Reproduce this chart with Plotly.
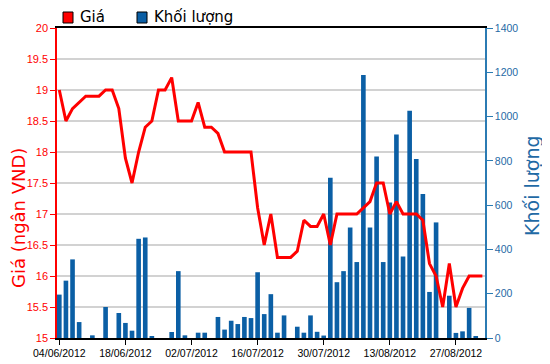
import plotly.graph_objects as go

dates = [
    "04/06/2012", "05/06/2012", "06/06/2012", "07/06/2012", "08/06/2012",
    "11/06/2012", "12/06/2012", "13/06/2012", "14/06/2012", "15/06/2012",
    "18/06/2012", "19/06/2012", "20/06/2012", "21/06/2012", "22/06/2012",
    "25/06/2012", "26/06/2012", "27/06/2012", "28/06/2012", "29/06/2012",
    "02/07/2012", "03/07/2012", "04/07/2012", "05/07/2012", "06/07/2012",
    "09/07/2012", "10/07/2012", "11/07/2012", "12/07/2012", "13/07/2012",
    "16/07/2012", "17/07/2012", "18/07/2012", "19/07/2012", "20/07/2012",
    "23/07/2012", "24/07/2012", "25/07/2012", "26/07/2012", "27/07/2012",
    "30/07/2012", "31/07/2012", "01/08/2012", "02/08/2012", "03/08/2012",
    "06/08/2012", "07/08/2012", "08/08/2012", "09/08/2012", "10/08/2012",
    "13/08/2012", "14/08/2012", "15/08/2012", "16/08/2012", "17/08/2012",
    "20/08/2012", "21/08/2012", "22/08/2012", "23/08/2012", "24/08/2012",
    "27/08/2012", "28/08/2012", "29/08/2012", "30/08/2012", "31/08/2012",
]

price = [
    19.0, 18.5, 18.7, 18.8, 18.9, 18.9, 18.9, 19.0, 19.0, 18.7,
    17.9, 17.5, 18.0, 18.4, 18.5, 19.0, 19.0, 19.2, 18.5, 18.5,
    18.5, 18.8, 18.4, 18.4, 18.3, 18.0, 18.0, 18.0, 18.0, 18.0,
    17.1, 16.5, 17.0, 16.3, 16.3, 16.3, 16.4, 16.9, 16.8, 16.8,
    17.0, 16.5, 17.0, 17.0, 17.0, 17.0, 17.1, 17.2, 17.5, 17.5,
    17.0, 17.2, 17.0, 17.0, 17.0, 16.9, 16.2, 16.0, 15.5, 16.2,
    15.5, 15.8, 16.0, 16.0, 16.0,
]

volume = [
    196, 259, 355, 72, 0, 12, 0, 140, 0, 113,
    68, 33, 448, 454, 6, 0, 0, 27, 302, 12,
    0, 24, 24, 0, 95, 38, 78, 63, 95, 90,
    297, 108, 198, 24, 102, 0, 51, 24, 102, 28,
    11, 724, 252, 302, 499, 343, 1188, 499, 820, 343,
    612, 919, 368, 1026, 808, 650, 208, 522, 0, 191,
    23, 30, 136, 7, 0,
]

tick_idx = [0, 10, 20, 30, 40, 50, 60]
tick_labels = [dates[i] for i in tick_idx]
price_ticks = [15, 15.5, 16, 16.5, 17, 17.5, 18, 18.5, 19, 19.5, 20]
price_tick_text = ["15", "15.5", "16", "16.5", "17", "17.5", "18", "18.5", "19", "19.5", "20"]
vol_ticks = [0, 200, 400, 600, 800, 1000, 1200, 1400]

RED = "#ff0000"
BLUE = "#0b5fa5"
AXBLUE = "#2b7bb3"
FONT = "Liberation Sans, Arial, sans-serif"

# the page body has an 8px margin; size the figure so the plot area lands at
# page pixels x 57..485, y 28..338
BODY = 8
fig = go.Figure()
fig.add_trace(go.Bar(
    x=dates, y=volume, name="Khối lượng", marker=dict(color=BLUE, line=dict(width=0)),
    yaxis="y", showlegend=False,
))
fig.add_trace(go.Scatter(
    x=dates, y=price, name="Giá", mode="lines", line=dict(color=RED, width=3),
    yaxis="y2", showlegend=False,
))

fig.update_layout(
    width=550 - BODY, height=364 - BODY,
    margin=dict(l=57 - BODY, r=65, t=28 - BODY, b=26, autoexpand=False),
    paper_bgcolor="white", plot_bgcolor="white",
    bargap=0.3,
    font=dict(family=FONT),
    xaxis=dict(
        type="category", categoryorder="array", categoryarray=dates,
        range=[-0.35, 64.4],
        tickmode="array", tickvals=tick_labels, ticktext=tick_labels,
        ticks="outside", ticklen=5, tickcolor="black", tickwidth=1,
        tickfont=dict(size=10.5, color="black", family=FONT),
        showline=True, linecolor="black", linewidth=1.5, mirror=True,
        showgrid=False, zeroline=False,
    ),
    yaxis=dict(
        side="right", range=[0, 1400], tickvals=vol_ticks,
        ticks="outside", ticklen=6, tickcolor=AXBLUE,
        tickfont=dict(size=10.5, color="#1f6aa5", family=FONT),
        showline=True, linecolor=AXBLUE, linewidth=1.5,
        showgrid=False, zeroline=False,
    ),
    yaxis2=dict(
        overlaying="y", side="left", range=[15, 20],
        tickvals=price_ticks, ticktext=price_tick_text,
        ticks="outside", ticklen=5, tickcolor=RED,
        tickfont=dict(size=11, color=RED, family=FONT),
        showline=True, linecolor=RED, linewidth=1.5,
        showgrid=True, gridcolor="#d2d2d2", gridwidth=2, zeroline=False,
    ),
)

def px_x(p):
    return (p - 57) / 428

def px_y(p):
    return (338 - p) / 310

# axis titles
fig.add_annotation(
    text="Giá (ngân VND)", textangle=-90, showarrow=False,
    xref="paper", yref="paper", x=px_x(18), y=px_y(218),
    xanchor="center", yanchor="middle",
    font=dict(size=18, color=RED, family="DejaVu Sans, sans-serif"),
)
fig.add_annotation(
    text="Khối lượng", textangle=-90, showarrow=False,
    xref="paper", yref="paper", x=px_x(532), y=px_y(186),
    xanchor="center", yanchor="middle",
    font=dict(size=19, color="#1f6aa5", family="DejaVu Sans, sans-serif"),
)

# legend (manual)
for x0, col, label in [(63, RED, "Giá"), (137, BLUE, "Khối lượng")]:
    fig.add_shape(type="rect", xref="paper", yref="paper",
                  x0=px_x(x0), x1=px_x(x0 + 10), y0=px_y(23), y1=px_y(12),
                  fillcolor=col, line=dict(color="black", width=1))
    fig.add_annotation(text=label, showarrow=False, xref="paper", yref="paper",
                       x=px_x(x0 + 15), y=px_y(17.5), xanchor="left", yanchor="middle",
                       font=dict(size=15, color="black", family="DejaVu Sans, sans-serif"))

fig.write_html("out.html")
